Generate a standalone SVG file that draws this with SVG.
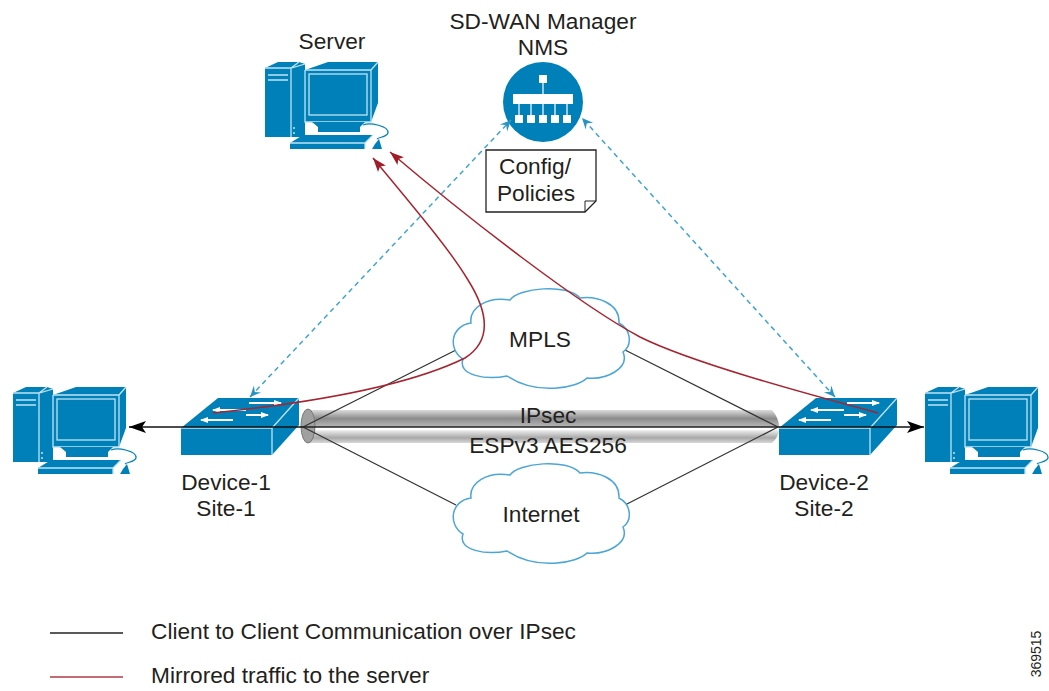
<svg xmlns="http://www.w3.org/2000/svg" width="1049" height="691" viewBox="0 0 1049 691">
<style>
text{font-family:"Liberation Sans",Arial,sans-serif;font-size:22.7px;fill:#231f20;text-anchor:middle}
.l{text-anchor:start}
.b{fill:#0080b8}
.w{fill:none;stroke:#bfe3f2;stroke-width:1.3}
.k{fill:none;stroke:#333;stroke-width:1.3}
.r{fill:none;stroke:#a6242f;stroke-width:1.5}
.d{fill:none;stroke:#3fa3d0;stroke-width:1.5;stroke-dasharray:5 4}
.c{fill:#fff;stroke:#4ba6d6;stroke-width:1.5}
</style>
<defs>
<linearGradient id="t1" x1="0" y1="0" x2="0" y2="1"><stop offset="0" stop-color="#dcdcdc"/><stop offset=".5" stop-color="#8c8c8c"/><stop offset="1" stop-color="#b8b8b8"/></linearGradient>
<linearGradient id="t2" x1="0" y1="0" x2="0" y2="1"><stop offset="0" stop-color="#f0f0f0"/><stop offset=".6" stop-color="#a8a8a8"/><stop offset="1" stop-color="#d8d8d8"/></linearGradient>
<marker id="ae" markerWidth="18" markerHeight="14" refX="17" refY="6" orient="auto" markerUnits="userSpaceOnUse" viewBox="0 0 18 12"><path d="M17 6L0 0L4 6L0 12Z" fill="#000"/></marker>
<marker id="ar" markerWidth="16" markerHeight="12" refX="14" refY="5" orient="auto" markerUnits="userSpaceOnUse" viewBox="0 0 16 10"><path d="M14 5L0 0L3 5L0 10Z" fill="#a01c26"/></marker>
<marker id="ad" markerWidth="14" markerHeight="12" refX="12" refY="5" orient="auto-start-reverse" markerUnits="userSpaceOnUse" viewBox="0 0 14 10"><path d="M12 5L1 0L5 5L1 10Z" fill="#2a93c6"/></marker>
<marker id="sa" markerWidth="8" markerHeight="7" refX="7" refY="3" orient="auto" markerUnits="userSpaceOnUse" viewBox="0 0 8 6"><path d="M8 3L0 0V6Z" fill="#fff"/></marker>
<g id="pc">
<path class="b" d="M0 6L13 0H34L40 2V75H0Z"/>
<path class="b" d="M40 8L63 0H113V41L106 60H40Z"/>
<path class="w" d="M26 6V75M0 6H26L40 2M26 6L34 0M40 8H106L113 0M106 8V60H40V8"/>
<rect x="44" y="12" width="58" height="41" fill="none" stroke="#bfe3f2" stroke-width="1.3"/>
<path class="w" d="M3 13H23M3 18H23"/>
<path class="b" d="M47 60H100L95 65V70H53V65Z"/>
<path class="b" d="M25 81L38 73H108L100 81V87H25Z"/>
<path class="w" d="M25 81H100L108 73M100 81V87"/>
<path d="M98 63C105 60 124 64 123 71C122 75 114 75 112 77" fill="none" stroke="#0080b8" stroke-width="1.2"/>
<path class="b" d="M110 82L114 77L117 87H107Z"/>
<circle cx="29" cy="66" r="1" fill="#bfe3f2"/><circle cx="29" cy="71" r="1" fill="#bfe3f2"/>
</g>
<g id="sw">
<path class="b" d="M0 30L37 0H118V27L91 57H0Z"/>
<path class="w" d="M0 30H91L118 0M91 30V57"/>
<g fill="none" stroke="#fff" stroke-width="2">
<path d="M52 22H20" marker-end="url(#sa)"/>
<path d="M65 17H87" marker-end="url(#sa)"/>
<path d="M65 12H32" marker-end="url(#sa)"/>
<path d="M68 5H100" marker-end="url(#sa)"/>
</g>
</g>
<path id="cl" d="M11 71C-4 62 -2 38 19 35C17 20 35 8 58 12C66 0 115 -5 128 10C145 8 168 15 167 35C180 42 180 58 171 64C178 80 155 92 135 90C125 100 85 108 55 88C35 92 5 88 11 71Z"/>
</defs>
<rect width="1049" height="691" fill="#fff"/>
<g id="connectors-back">
<path d="M307 410H772Q779 418 779 427H307Z" fill="url(#t1)"/>
<path d="M307 430H779Q778 438 772 443H307Z" fill="url(#t2)"/>
<ellipse cx="308" cy="426" rx="7" ry="17" fill="#a0a0a0" stroke="#777"/>
</g>
<g id="device-1"><use href="#sw" x="181" y="398"/></g>
<g id="device-2"><use href="#sw" x="779" y="398"/></g>
<g id="connectors">
<path class="k" d="M303 427L456 350M303 427L456 505M778 427L625 350M778 427L625 505"/>
<path d="M303 427H129" fill="none" stroke="#111" stroke-width="1.4" marker-end="url(#ae)"/>
<path d="M778 427H924" fill="none" stroke="#111" stroke-width="1.4" marker-end="url(#ae)"/>
<path d="M303 427H778" fill="none" stroke="#222" stroke-width="1.4"/>
</g>
<g id="pc-left"><use href="#pc" x="13" y="387"/></g>
<g id="pc-right"><use href="#pc" x="925" y="387"/></g>
<g id="server"><use href="#pc" x="265" y="62"/><text x="332" y="49">Server</text></g>
<g id="cloud-mpls"><use href="#cl" x="452" y="288" class="c"/><text x="540" y="347">MPLS</text></g>
<g id="cloud-internet"><use href="#cl" x="452" y="463" class="c"/><text x="541" y="522">Internet</text></g>
<g id="tunnel-label"><text x="548" y="423">IPsec</text><text x="548" y="453">ESPv3 AES256</text></g>
<g id="nms">
<circle cx="543" cy="102" r="40" fill="#0080b8"/>
<path d="M543 83V94M519 104V115M531 104V115M543 104V115M555 104V115M567 104V115" stroke="#fff" stroke-width="1.2" fill="none"/>
<rect x="539" y="75" width="8" height="8" fill="#fff"/>
<rect x="513" y="94" width="60" height="10" fill="#fff"/>
<path d="M515 115h8v8h-8zM527 115h8v8h-8zM539 115h8v8h-8zM551 115h8v8h-8zM563 115h8v8h-8z" fill="#fff"/>
<text x="543" y="29">SD-WAN Manager</text><text x="543" y="55">NMS</text>
</g>
<g id="config">
<path d="M486 150H596V201L585 212H486Z" fill="#fff" stroke="#222" stroke-width="1.3"/>
<path d="M596 201H585V212" fill="none" stroke="#222" stroke-width="1"/>
<text x="535" y="174">Config/</text><text x="536" y="201">Policies</text>
</g>
<g id="connectors-top">
<path class="d" d="M250 397L511 120" marker-start="url(#ad)" marker-end="url(#ad)"/>
<path class="d" d="M835 397L582 118" marker-start="url(#ad)" marker-end="url(#ad)"/>
<path class="r" d="M213 413C290 405 400 390 465 358C490 342 490 315 468 280C450 250 420 215 373 158" marker-end="url(#ar)"/>
<path class="r" d="M878 413C800 392 690 362 640 337C580 305 470 220 390 152" marker-end="url(#ar)"/>
</g>
<g id="labels">
<text x="226" y="490">Device-1</text><text x="226" y="516">Site-1</text>
<text x="824" y="490">Device-2</text><text x="824" y="516">Site-2</text>
</g>
<g id="legend">
<path d="M50 633H123" stroke="#222" stroke-width="1.3"/>
<path d="M50 677H123" stroke="#b03a44" stroke-width="1.3"/>
<text class="l" x="151" y="639">Client to Client Communication over IPsec</text>
<text class="l" x="151" y="683">Mirrored traffic to the server</text>
<text x="0" y="0" transform="translate(1041,654) rotate(-90)" style="font-size:14px">369515</text>
</g>
</svg>
